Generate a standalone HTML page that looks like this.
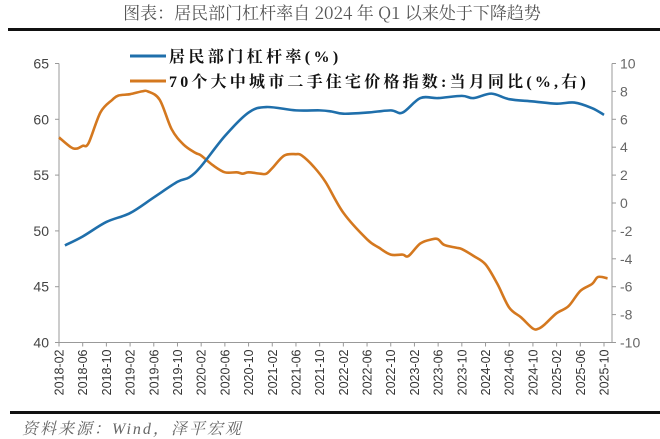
<!DOCTYPE html>
<html><head><meta charset="utf-8"><style>
body{margin:0;background:#fff;width:660px;height:439px;overflow:hidden}
svg{display:block}
</style></head><body>
<svg id="chart" width="660" height="439" xmlns="http://www.w3.org/2000/svg">
<text x="332" y="19" text-anchor="middle" font-family="'Noto Serif CJK SC','Liberation Serif',serif" font-size="17" fill="#555">图表：居民部门杠杆率自 2024 年 Q1 以来处于下降趋势</text>
<rect x="8" y="28" width="652" height="3" fill="#111"/>
<rect x="10" y="411" width="650" height="3" fill="#111"/>
<text x="22" y="434" font-family="'Liberation Serif','Noto Serif CJK SC',serif" font-style="italic" font-size="16" letter-spacing="2" fill="#666">资料来源：Wind，泽平宏观</text>
<g id="axes"></g>
<g id="marks"></g>
<g>
<line x1="130" y1="56" x2="166" y2="56" stroke="#1f6fab" stroke-width="3"/>
<text x="169" y="62" font-family="'Liberation Serif','Noto Serif CJK SC',serif" font-weight="bold" font-size="16" letter-spacing="3.4" fill="#111">居民部门杠杆率(%)</text>
<line x1="130" y1="81" x2="166" y2="81" stroke="#d4781f" stroke-width="3"/>
<text x="169" y="87" font-family="'Liberation Serif','Noto Serif CJK SC',serif" font-weight="bold" font-size="16" letter-spacing="3.2" fill="#111">70个大中城市二手住宅价格指数:当月同比(%,右)</text>
</g>
</svg>
<script>
const xLabels=["2018-02","2018-06","2018-10","2019-02","2019-06","2019-10","2020-02","2020-06","2020-10","2021-02","2021-06","2021-10","2022-02","2022-06","2022-10","2023-02","2023-06","2023-10","2024-02","2024-06","2024-10","2025-02","2025-06","2025-10"];
const leftTicks=[40,45,50,55,60,65];
const rightTicks=[-10,-8,-6,-4,-2,0,2,4,6,8,10];
const leverageMonths=[1,4,8,12,16,20,22,24,28,32,35,40,44,46,48,52,56,58,61,64,68,70,73,76,80,84,87,90,92];
const leverageValues=[48.7,49.5,50.8,51.6,53.0,54.4,54.8,55.8,58.5,60.6,61.1,60.8,60.8,60.7,60.5,60.6,60.8,60.6,61.9,61.9,62.1,61.9,62.3,61.8,61.6,61.4,61.5,61.0,60.4];
const priceMonths=[0,2,3,4,5,7,9,10,12,14,15,17,19,21,23,24,26,28,30,31,32,34,35,36,38,40,41,43,45,48,52,54,56,58,59,61,63,64,65,67,68,70,72,74,76,78,80,81,82,84,86,88,90,91,92.6];
const priceValues=[4.7,4.0,3.9,4.1,4.3,6.5,7.4,7.7,7.8,8.0,8.0,7.4,5.3,4.2,3.6,3.4,2.7,2.2,2.2,2.1,2.2,2.1,2.1,2.5,3.4,3.5,3.4,2.6,1.5,-0.7,-2.6,-3.2,-3.7,-3.7,-3.8,-2.9,-2.6,-2.6,-3.0,-3.2,-3.3,-3.8,-4.4,-5.8,-7.5,-8.2,-9.0,-9.0,-8.7,-7.9,-7.4,-6.3,-5.8,-5.3,-5.4];
const NS="http://www.w3.org/2000/svg";
const X0=59,XSTEP=5.924,YT=63.5,YB=342.5;
const x=m=>X0+m*XSTEP;
const yL=v=>YB-(v-40)/25*(YB-YT);
const yR=v=>YB-(v+10)/20*(YB-YT);
function mk(tag,at,parent){const e=document.createElementNS(NS,tag);for(const k in at)e.setAttribute(k,at[k]);parent.appendChild(e);return e;}
const ax=document.getElementById('axes'),mg=document.getElementById('marks');
const F="'Liberation Sans','DejaVu Sans',sans-serif";
let e=mk('line',{x1:X0,y1:YT,x2:X0,y2:YB,stroke:'#999','stroke-width':1},ax);


e=mk('line',{x1:612,y1:YT,x2:612,y2:YB,stroke:'#999','stroke-width':1},ax);


e=mk('line',{x1:X0,y1:YB,x2:612,y2:YB,stroke:'#999','stroke-width':1},ax);


leftTicks.forEach(v=>{
 mk('line',{x1:X0-4,y1:yL(v),x2:X0,y2:yL(v),stroke:'#999'},ax);
 const t=mk('text',{x:X0-10,y:yL(v)+5,'text-anchor':'end','font-family':F,'font-size':14,fill:'#444'},ax);
 t.textContent=v;
 
 
});
rightTicks.forEach(v=>{
 mk('line',{x1:612,y1:yR(v),x2:616,y2:yR(v),stroke:'#999'},ax);
 const t=mk('text',{x:620,y:yR(v)+5,'font-family':F,'font-size':14,fill:'#666'},ax);
 t.textContent=v;
 
 
});
xLabels.forEach((s,i)=>{
 const xx=x(i*4);
 mk('line',{x1:xx,y1:YB,x2:xx,y2:YB+4,stroke:'#999'},ax);
 const t=mk('text',{x:0,y:0,'text-anchor':'end','font-family':F,'font-size':12.5,fill:'#333',transform:`translate(${xx+4.5},${YB+7}) rotate(-90)`},ax);
 t.textContent=s;
 
 
});
function smooth(pts){let d=`M${pts[0][0]},${pts[0][1]}`;for(let i=0;i<pts.length-1;i++){const p0=pts[Math.max(0,i-1)],p1=pts[i],p2=pts[i+1],p3=pts[Math.min(pts.length-1,i+2)];const c1=[p1[0]+(p2[0]-p0[0])/6,p1[1]+(p2[1]-p0[1])/6],c2=[p2[0]-(p3[0]-p1[0])/6,p2[1]-(p3[1]-p1[1])/6];d+=`C${c1[0]},${c1[1]} ${c2[0]},${c2[1]} ${p2[0]},${p2[1]}`;}return d;}
e=mk('path',{d:smooth(priceMonths.map((m,i)=>[x(m),yR(priceValues[i])])),fill:'none',stroke:'#d4781f','stroke-width':2.6,'stroke-linejoin':'round'},mg);


e=mk('path',{d:smooth(leverageMonths.map((m,i)=>[x(m),yL(leverageValues[i])])),fill:'none',stroke:'#1f6fab','stroke-width':2.6,'stroke-linejoin':'round'},mg);


</script>
</body></html>
